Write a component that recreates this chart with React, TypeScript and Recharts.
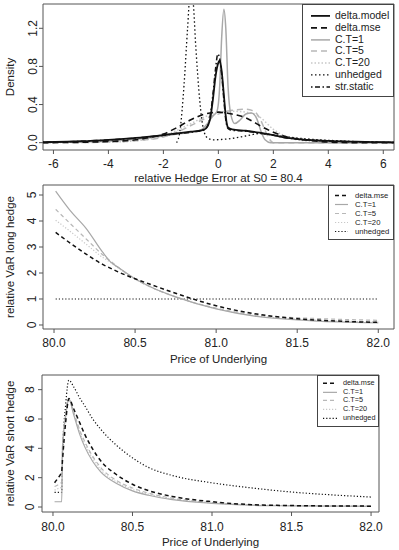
import React from 'react';
import { LineChart, Line, XAxis, YAxis, ReferenceArea, Legend } from 'recharts';

const FONT = '"Liberation Sans", Arial, Helvetica, sans-serif';
const INK = '#222';
const FRAME = '#555';
const BLACK = '#111';
const GRAY1 = '#a8a8a8';
const GRAY5 = '#b8b8b8';
const GRAY20 = '#c8c8c8';

// ---- top panel: density of the relative hedge error at S0 = 80.4
const errTicks = [-6, -4, -2, 0, 2, 4, 6];
const densTicks = [0, 0.4, 0.8, 1.2];

const densDeltaModel = [
  [-6.4, 0.004], [-5.5, 0.01], [-5, 0.015], [-4, 0.03], [-3, 0.05], [-2.5, 0.063], [-2, 0.08],
  [-1.5, 0.098], [-1, 0.115], [-0.6, 0.13], [-0.45, 0.15], [-0.3, 0.25], [-0.2, 0.45], [-0.1, 0.7],
  [0, 0.84], [0.05, 0.86], [0.12, 0.75], [0.2, 0.5], [0.28, 0.25], [0.35, 0.16], [0.5, 0.14],
  [1, 0.125], [1.5, 0.105], [2, 0.08], [2.5, 0.05], [3, 0.035], [4, 0.018], [5, 0.01], [6, 0.005], [6.4, 0.003],
];
const densDeltaMse = [
  [-6.4, 0], [-5, 0.004], [-4, 0.012], [-3, 0.03], [-2.5, 0.055], [-2, 0.09], [-1.5, 0.16], [-1, 0.24],
  [-0.5, 0.3], [0, 0.32], [0.5, 0.3], [1, 0.26], [1.27, 0.22], [1.5, 0.18], [2, 0.11], [2.5, 0.06],
  [3, 0.035], [3.5, 0.018], [4, 0.006], [4.5, 0.001], [6.4, 0],
];
const densCT1 = [
  [-6.4, 0.002], [-5, 0.008], [-4, 0.015], [-3, 0.035], [-2, 0.07], [-1.5, 0.09], [-1, 0.11], [-0.6, 0.14],
  [-0.4, 0.2], [-0.2, 0.28], [-0.05, 0.33], [0.05, 0.6], [0.12, 1.1], [0.2, 1.4], [0.27, 1.2], [0.35, 0.6],
  [0.45, 0.3], [0.6, 0.2], [0.8, 0.24], [1, 0.3], [1.2, 0.31], [1.4, 0.25], [1.55, 0.12], [1.7, 0.03],
  [1.9, 0], [6.4, 0],
];
const densCT5 = [
  [-6.4, 0], [-4, 0.005], [-3, 0.02], [-2, 0.06], [-1.5, 0.11], [-1, 0.18], [-0.5, 0.25], [0, 0.3],
  [0.5, 0.34], [1, 0.35], [1.3, 0.33], [1.5, 0.26], [1.7, 0.13], [1.85, 0.04], [2, 0], [6.4, 0],
];
const densCT20 = [
  [-6.4, 0], [-4, 0.005], [-3, 0.02], [-2, 0.07], [-1.5, 0.13], [-1, 0.2], [-0.5, 0.27], [0, 0.32],
  [0.5, 0.33], [1, 0.32], [1.5, 0.27], [2, 0.14], [2.5, 0.06], [3, 0.025], [4, 0.006], [5, 0], [6.4, 0],
];
const densUnhedged = [
  [-1.52, 0], [-1.4, 0.12], [-1.25, 0.6], [-1.12, 1.2], [-1.03, 1.55], [-0.93, 1.5], [-0.82, 1.0],
  [-0.68, 0.45], [-0.55, 0.15], [-0.4, 0.05], [-0.2, 0.03], [0.5, 0.045], [1, 0.07], [1.5, 0.095],
  [2, 0.08], [3, 0.045], [4, 0.025], [5, 0.012], [6, 0.005], [6.4, 0.003],
];
const densStrStatic = [
  [-6.4, 0.004], [-5, 0.014], [-4, 0.028], [-3, 0.048], [-2, 0.078], [-1.5, 0.095], [-1, 0.11],
  [-0.6, 0.125], [-0.45, 0.15], [-0.3, 0.27], [-0.2, 0.5], [-0.1, 0.78], [-0.02, 0.93], [0.05, 0.88],
  [0.12, 0.72], [0.2, 0.45], [0.28, 0.22], [0.35, 0.15], [0.5, 0.13], [1, 0.12], [1.5, 0.1], [2, 0.078],
  [2.5, 0.05], [3, 0.034], [4, 0.017], [5, 0.009], [6, 0.004], [6.4, 0.003],
];

// ---- middle panel: relative VaR, long hedge
const priceTicks = [80, 80.5, 81, 81.5, 82];
const longTicks = [0, 1, 2, 3, 4, 5];
const longPrice = [80.01, 80.1, 80.2, 80.3, 80.35, 80.4, 80.5, 80.6, 80.75, 81, 81.25, 81.5, 81.75, 82];
const longDeltaMse = [3.56, 3.15, 2.72, 2.33, 2.18, 2.03, 1.78, 1.55, 1.22, 0.74, 0.42, 0.24, 0.15, 0.1];
const longCT1 = [5.15, 4.4, 3.7, 2.8, 2.42, 2.2, 1.78, 1.45, 1.08, 0.62, 0.33, 0.2, 0.12, 0.08];
const longCT5 = [4.45, 3.9, 3.3, 2.7, 2.45, 2.2, 1.77, 1.45, 1.08, 0.65, 0.38, 0.28, 0.22, 0.18];
const longCT20 = [4.03, 3.6, 3.1, 2.6, 2.4, 2.17, 1.76, 1.45, 1.08, 0.63, 0.35, 0.22, 0.15, 0.12];
const longUnhedged = [1, 1, 1, 1, 1, 1, 1, 1, 1, 1, 1, 1, 1, 1];

// ---- bottom panel: relative VaR, short hedge
const shortTicks = [0, 2, 4, 6, 8];
const shortPrice = [80.01, 80.03, 80.055, 80.06, 80.08, 80.1, 80.13, 80.17, 80.2, 80.25, 80.3, 80.4, 80.5, 80.6, 80.75, 81, 81.25, 81.5, 81.75, 82];
const shortDeltaMse = [1.65, 1.95, 2.45, 3.2, 5.8, 7.4, 6.7, 5.7, 4.95, 3.95, 3.15, 2.2, 1.55, 1.12, 0.72, 0.36, 0.16, 0.1, 0.07, 0.06];
const shortCT1 = [0.36, 0.36, 0.36, 4.0, 6.2, 7.35, 6.3, 4.9, 4.1, 3.1, 2.4, 1.6, 1.1, 0.8, 0.5, 0.25, 0.12, 0.08, 0.06, 0.05];
const shortCT5 = [1.4, 1.5, 1.7, 4.2, 6.3, 7.35, 6.5, 5.2, 4.45, 3.45, 2.7, 1.8, 1.3, 0.95, 0.6, 0.3, 0.15, 0.1, 0.08, 0.06];
const shortCT20 = [1.15, 1.25, 1.35, 4.1, 6.25, 7.35, 6.4, 5.05, 4.3, 3.3, 2.55, 1.7, 1.2, 0.88, 0.55, 0.28, 0.14, 0.09, 0.07, 0.05];
const shortUnhedged = [1, 1, 1, 3.5, 7.0, 8.65, 8.2, 7.4, 6.9, 6.0, 5.3, 4.2, 3.35, 2.7, 2.15, 1.65, 1.3, 1.02, 0.83, 0.68];

const pairs = (arr: number[][]) => arr.map(([x, y]) => ({ x, y }));
const zipXY = (xs: number[], ys: number[]) => xs.map((x, i) => ({ x, y: ys[i] }));

type Style = { name: string; color: string; width: number; dash?: string };

const topStyles: Style[] = [
  { name: 'delta.model', color: BLACK, width: 1.8 },
  { name: 'delta.mse', color: BLACK, width: 1.6, dash: '6 4' },
  { name: 'C.T=1', color: GRAY1, width: 1.5 },
  { name: 'C.T=5', color: GRAY5, width: 1.5, dash: '6 4' },
  { name: 'C.T=20', color: GRAY20, width: 1.5, dash: '1.5 2' },
  { name: 'unhedged', color: BLACK, width: 1.3, dash: '1.5 2.5' },
  { name: 'str.static', color: BLACK, width: 1.5, dash: '1.5 2.5 5 2.5' },
];
const varStyles: Style[] = [
  { name: 'delta.mse', color: BLACK, width: 1.5, dash: '4 3' },
  { name: 'C.T=1', color: GRAY1, width: 1.2 },
  { name: 'C.T=5', color: GRAY5, width: 1.2, dash: '4 3' },
  { name: 'C.T=20', color: GRAY20, width: 1.2, dash: '1.2 1.8' },
  { name: 'unhedged', color: BLACK, width: 1.2, dash: '1.2 2' },
];

function BoxLegend({ items, fontSize, rowH, padL, padT, padB, sampleW, gap }: any) {
  return (
    <div style={{ border: '1px solid #444', background: '#fff', padding: `${padT}px 0 ${padB}px ${padL}px`, fontSize, color: INK, fontFamily: FONT, boxSizing: 'border-box' }}>
      {items.map((it: Style) => (
        <div key={it.name} style={{ display: 'flex', alignItems: 'center', height: rowH, whiteSpace: 'nowrap' }}>
          <svg width={sampleW} height={rowH} style={{ display: 'block' }}>
            <line x1={0} x2={sampleW} y1={rowH / 2} y2={rowH / 2} stroke={it.color} strokeWidth={it.width} strokeDasharray={it.dash} />
          </svg>
          <span style={{ marginLeft: gap, lineHeight: `${rowH}px`, color: INK }}>{it.name}</span>
        </div>
      ))}
    </div>
  );
}

// y tick labels run along the axis, as in base R
const YTick = (props: any) => {
  const { x, y, payload, digits } = props;
  return (
    <text x={x} y={y} transform={`rotate(-90 ${x} ${y})`} textAnchor="middle" dominantBaseline="central" fontSize={12} fill={INK}>
      {Number(payload.value).toFixed(digits)}
    </text>
  );
};

const YTitle = (props: any) => {
  const { viewBox, text } = props;
  const cx = 10;
  const cy = viewBox.y + viewBox.height / 2;
  return (
    <text x={cx} y={cy} transform={`rotate(-90 ${cx} ${cy})`} textAnchor="middle" dominantBaseline="central" fontSize={11.5} fill={INK}>
      {text}
    </text>
  );
};

const XTitle = (props: any) => {
  const { viewBox, text, plotX, plotW, base } = props;
  return (
    <text x={plotX + plotW / 2} y={viewBox.y + base} textAnchor="middle" fontSize={11.5} fill={INK}>
      {text}
    </text>
  );
};

function seriesLine(key: string, st: Style, data: any[]) {
  return (
    <Line
      key={key}
      data={data}
      dataKey="y"
      type="monotone"
      stroke={st.color}
      strokeWidth={st.width}
      strokeDasharray={st.dash}
      dot={false}
      activeDot={false}
      isAnimationActive={false}
    />
  );
}

export default function App() {
  const sty = (n: string, list: Style[]) => list.find(s => s.name === n)!;
  const xDomTop: [number, number] = [-6.38, 6.39];
  const yDomTop: [number, number] = [-0.077, 1.455];
  const xDomLong: [number, number] = [79.932, 82.097];
  const yDomLong: [number, number] = [-0.154, 5.385];
  const xDomShort: [number, number] = [79.931, 82.05];
  const yDomShort: [number, number] = [-0.34, 9.0];

  return (
    <div style={{ position: 'absolute', left: 0, top: 0, width: 399, height: 550, background: '#fff', fontFamily: FONT }}>
      {/* density of hedge error */}
      <div style={{ position: 'absolute', left: 0, top: 0 }}>
        <LineChart width={399} height={185} margin={{ top: 4, right: 5, bottom: 0, left: 0 }}>
          <XAxis dataKey="x" type="number" domain={xDomTop} allowDataOverflow ticks={errTicks} interval={0}
            axisLine={false} tickSize={4} tickMargin={5} tickLine={{ stroke: FRAME }} tick={{ fill: INK, fontSize: 12 }} height={35}
            label={<XTitle text="relative Hedge Error at S0 = 80.4" plotX={43} plotW={351} base={32} />} />
          <YAxis type="number" domain={yDomTop} allowDataOverflow ticks={densTicks} interval={0} width={43}
            axisLine={false} tickSize={4} tickMargin={6} tickLine={{ stroke: FRAME }} tick={<YTick digits={1} />}
            label={<YTitle text="Density" />} />
          <ReferenceArea x1={xDomTop[0]} x2={xDomTop[1]} y1={yDomTop[0]} y2={yDomTop[1]} fill="none" stroke={FRAME} strokeWidth={1} ifOverflow="visible" />
          {seriesLine('ct20', sty('C.T=20', topStyles), pairs(densCT20))}
          {seriesLine('ct5', sty('C.T=5', topStyles), pairs(densCT5))}
          {seriesLine('ct1', sty('C.T=1', topStyles), pairs(densCT1))}
          {seriesLine('unh', sty('unhedged', topStyles), pairs(densUnhedged))}
          {seriesLine('mse', sty('delta.mse', topStyles), pairs(densDeltaMse))}
          {seriesLine('model', sty('delta.model', topStyles), pairs(densDeltaModel))}
          {seriesLine('static', sty('str.static', topStyles), pairs(densStrStatic))}
          <Legend layout="vertical" align="center" verticalAlign="middle"
            wrapperStyle={{ left: 302, top: 4, width: 92, right: 'auto', bottom: 'auto' }}
            content={() => <BoxLegend items={topStyles} fontSize={10.5} rowH={11.8} padL={8} padT={5} padB={3} sampleW={19} gap={5} />} />
        </LineChart>
      </div>

      {/* relative VaR, long hedge */}
      <div style={{ position: 'absolute', left: 0, top: 180 }}>
        <LineChart width={399} height={185} margin={{ top: 5, right: 5, bottom: 0, left: 0 }}>
          <XAxis dataKey="x" type="number" domain={xDomLong} allowDataOverflow ticks={priceTicks} interval={0}
            axisLine={false} tickSize={4} tickMargin={5} tickLine={{ stroke: FRAME }} tick={{ fill: INK, fontSize: 12 }}
            tickFormatter={(v: number) => v.toFixed(1)} height={36}
            label={<XTitle text="Price of Underlying" plotX={43} plotW={351} base={34} />} />
          <YAxis type="number" domain={yDomLong} allowDataOverflow ticks={longTicks} interval={0} width={43}
            axisLine={false} tickSize={4} tickMargin={7} tickLine={{ stroke: FRAME }} tick={<YTick digits={0} />}
            label={<YTitle text="relative VaR long hedge" />} />
          <ReferenceArea x1={xDomLong[0]} x2={xDomLong[1]} y1={yDomLong[0]} y2={yDomLong[1]} fill="none" stroke={FRAME} strokeWidth={1} ifOverflow="visible" />
          {seriesLine('unh', sty('unhedged', varStyles), zipXY(longPrice, longUnhedged))}
          {seriesLine('ct20', sty('C.T=20', varStyles), zipXY(longPrice, longCT20))}
          {seriesLine('ct5', sty('C.T=5', varStyles), zipXY(longPrice, longCT5))}
          {seriesLine('ct1', sty('C.T=1', varStyles), zipXY(longPrice, longCT1))}
          {seriesLine('mse', sty('delta.mse', varStyles), zipXY(longPrice, longDeltaMse))}
          <Legend layout="vertical" align="center" verticalAlign="middle"
            wrapperStyle={{ left: 328, top: 5, width: 66, right: 'auto', bottom: 'auto' }}
            content={() => <BoxLegend items={varStyles} fontSize={7.7} rowH={9} padL={6} padT={4.5} padB={3.5} sampleW={13} gap={7} />} />
        </LineChart>
      </div>

      {/* relative VaR, short hedge */}
      <div style={{ position: 'absolute', left: 0, top: 365 }}>
        <LineChart width={399} height={185} margin={{ top: 10, right: 20, bottom: 0, left: 0 }}>
          <XAxis dataKey="x" type="number" domain={xDomShort} allowDataOverflow ticks={priceTicks} interval={0}
            axisLine={false} tickSize={4} tickMargin={6} tickLine={{ stroke: FRAME }} tick={{ fill: INK, fontSize: 12 }}
            tickFormatter={(v: number) => v.toFixed(1)} height={38}
            label={<XTitle text="Price of Underlying" plotX={42} plotW={337} base={34} />} />
          <YAxis type="number" domain={yDomShort} allowDataOverflow ticks={shortTicks} interval={0} width={42}
            axisLine={false} tickSize={4} tickMargin={8} tickLine={{ stroke: FRAME }} tick={<YTick digits={0} />}
            label={<YTitle text="relative VaR short hedge" />} />
          <ReferenceArea x1={xDomShort[0]} x2={xDomShort[1]} y1={yDomShort[0]} y2={yDomShort[1]} fill="none" stroke={FRAME} strokeWidth={1} ifOverflow="visible" />
          {seriesLine('unh', sty('unhedged', varStyles), zipXY(shortPrice, shortUnhedged))}
          {seriesLine('ct20', sty('C.T=20', varStyles), zipXY(shortPrice, shortCT20))}
          {seriesLine('ct5', sty('C.T=5', varStyles), zipXY(shortPrice, shortCT5))}
          {seriesLine('ct1', sty('C.T=1', varStyles), zipXY(shortPrice, shortCT1))}
          {seriesLine('mse', sty('delta.mse', varStyles), zipXY(shortPrice, shortDeltaMse))}
          <Legend layout="vertical" align="center" verticalAlign="middle"
            wrapperStyle={{ left: 317, top: 10, width: 62, right: 'auto', bottom: 'auto' }}
            content={() => <BoxLegend items={varStyles} fontSize={7.3} rowH={8.7} padL={5} padT={3} padB={3.5} sampleW={14} gap={6} />} />
        </LineChart>
      </div>
    </div>
  );
}
